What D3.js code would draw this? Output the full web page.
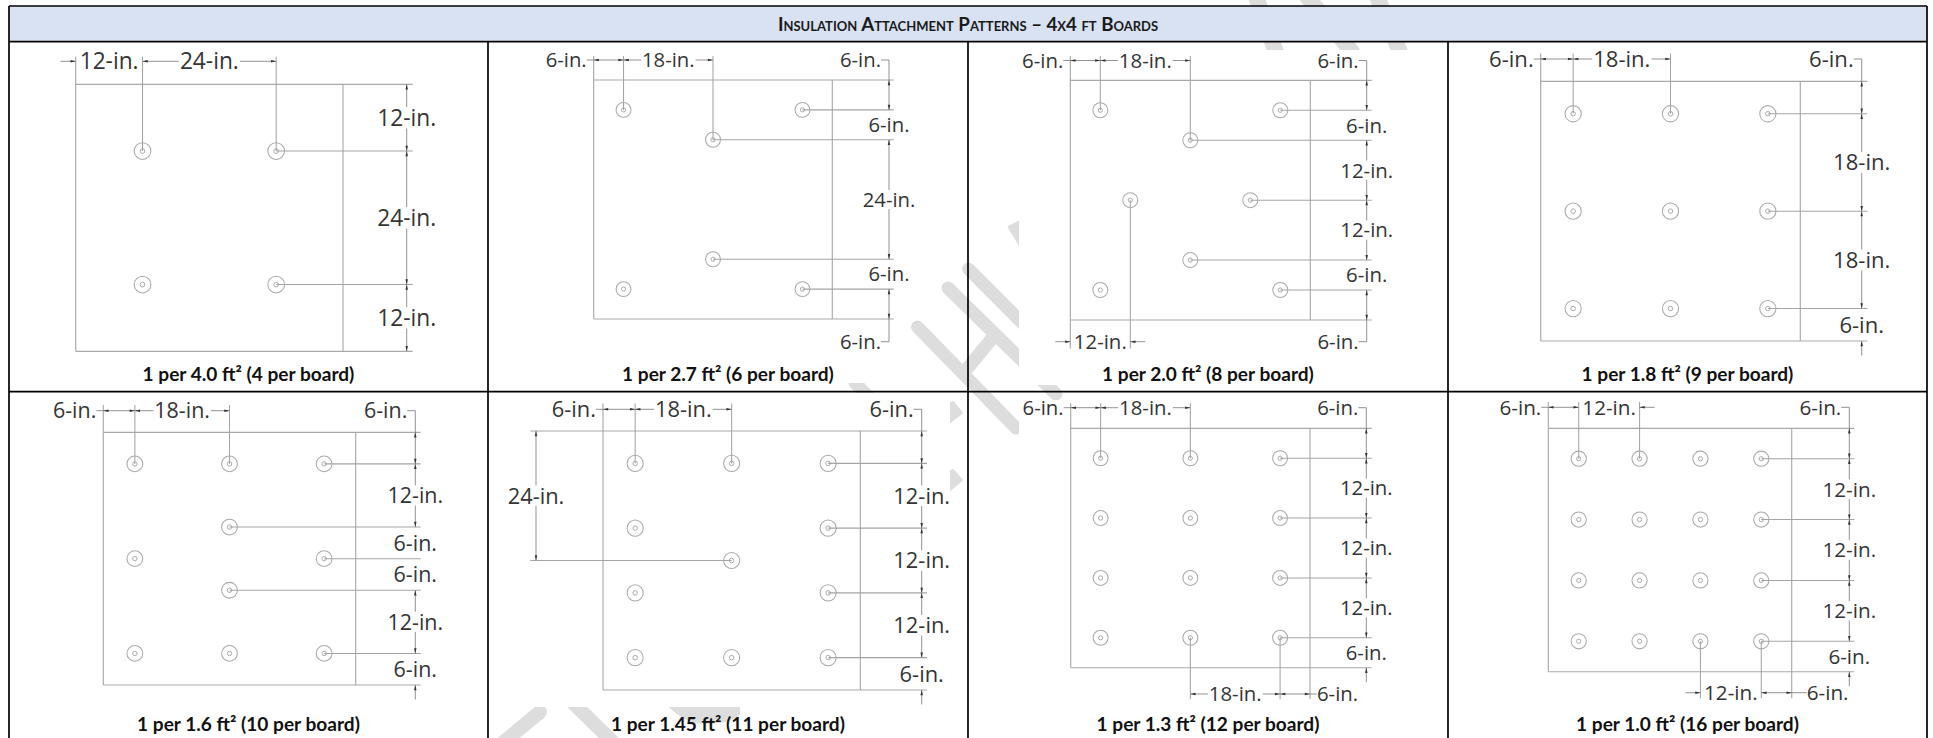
<!DOCTYPE html>
<html><head><meta charset="utf-8">
<script src="https://cdn.jsdelivr.net/npm/d3@7"></script>
<style>
html,body{margin:0;padding:0;background:#fff;overflow:hidden}
svg{display:block}
.wm{stroke:#dddddd;fill:none;stroke-linecap:round}
.wmf{fill:#dddddd;stroke:#dddddd;stroke-linejoin:round;stroke-width:2}
.board{stroke:#a9a9a9;stroke-width:1.15;fill:none}
.ext{stroke:#a4a4a4;stroke-width:1.05;fill:none}
.dimline{stroke:#8c8c8c;stroke-width:.95;fill:none}
.arrow{fill:#333;stroke:none}
.ring{fill:none;stroke:#aaa;stroke-width:1.05}
.ringIn{fill:none;stroke:#a2a2a2;stroke-width:.9}
.lbl{font-family:"Open Sans",sans-serif;fill:#353535}
.cap{font-family:Lato,sans-serif;font-weight:700;fill:#111;text-anchor:middle}
.ttl{font-family:Lato,sans-serif;font-weight:700;fill:#1a1a1a;text-anchor:middle;font-variant:small-caps}
</style></head><body>
<script>
// ---------- content ----------
const chartTitle = "Insulation Attachment Patterns – 4x4 ft Boards";
const boardInches = 48;
const ratios = ["4.0","2.7","2.0","1.8","1.6","1.45","1.3","1.0"];
const perBoard = [4,6,8,9,10,11,12,16];

// fastener positions, inches from the board's top-left corner
const fasteners1 = [[12,12],[36,12],[12,36],[36,36]];
const fasteners2 = [[6,6],[42,6],[24,12],[24,36],[6,42],[42,42]];
const fasteners3 = [[6,6],[42,6],[24,12],[12,24],[36,24],[24,36],[6,42],[42,42]];
const fasteners4 = [[6,6],[24,6],[42,6],[6,24],[24,24],[42,24],[6,42],[24,42],[42,42]];
const fasteners5 = [[6,6],[24,6],[42,6],[24,18],[6,24],[42,24],[24,30],[6,42],[24,42],[42,42]];
const fasteners6 = [[6,6],[24,6],[42,6],[6,18],[42,18],[24,24],[6,30],[42,30],[6,42],[24,42],[42,42]];
const fasteners7 = [[6,6],[24,6],[42,6],[6,18],[24,18],[42,18],[6,30],[24,30],[42,30],[6,42],[24,42],[42,42]];
const fasteners8 = [[6,6],[18,6],[30,6],[42,6],[6,18],[18,18],[30,18],[42,18],[6,30],[18,30],[30,30],[42,30],[6,42],[18,42],[30,42],[42,42]];

// dimension chains: [from, to, label, how the label sits]
const top1 = [[0,12,"12-in.","textTailS"],[12,36,"24-in.","dim"]];
const top2 = [[0,6,"6-in.","leadS"],[6,24,"18-in.","dim"]];
const top8 = [[0,6,"6-in.","leadS"],[6,18,"12-in.","textTailE"]];
const right1 = [[0,12,"12-in.","dim"],[12,36,"24-in.","dim"],[36,48,"12-in.","dim"]];
const right2 = [[0,6,"6-in.","leadS"],[6,12,"6-in.","text"],[12,36,"24-in.","dim"],[36,42,"6-in.","text"],[42,48,"6-in.","leadE"]];
const right3 = [[0,6,"6-in.","leadS"],[6,12,"6-in.","text"],[12,24,"12-in.","dim"],[24,36,"12-in.","dim"],[36,42,"6-in.","text"],[42,48,"6-in.","leadE"]];
const right4 = [[0,6,"6-in.","leadS"],[6,24,"18-in.","dim"],[24,42,"18-in.","dim"],[42,48,"6-in.","textTailE"]];
const right5 = [[0,6,"6-in.","leadS"],[6,18,"12-in.","dim"],[18,24,"6-in.","text"],[24,30,"6-in.","text"],[30,42,"12-in.","dim"],[42,48,"6-in.","textTailE"]];
const right6 = [[0,6,"6-in.","leadS"],[6,18,"12-in.","dim"],[18,30,"12-in.","dim"],[30,42,"12-in.","dim"],[42,48,"6-in.","textTailE"]];
const bottom3 = [[0,12,"12-in.","textTailBoth"]];
const bottom7 = [[24,42,"18-in.","dim"],[42,48,"6-in.","leadE"]];
const bottom8 = [[30,42,"12-in.","textTailS"],[42,48,"6-in.","leadE"]];
const left6 = [[0,24,"24-in.","dim"]];

const fastenerSets = [fasteners1,fasteners2,fasteners3,fasteners4,fasteners5,fasteners6,fasteners7,fasteners8];
const topChains = [top1,top2,top2,top2,top2,top2,top2,top8];
const rightChains = [right1,right2,right3,right4,right5,right6,right6,right6];
const bottomChains = [null,null,bottom3,null,null,null,bottom7,bottom8];
const leftChains = [null,null,null,null,null,left6,null,null];

// ---------- page layout (pixels) ----------
const W = 1933, H = 738;
const colX = [9,488,968,1448,1927];
const rowY = [6,41.7,391.7,H+6];
const captionBase = [381,731];
const panels = [
 {left:75.7,right:343,top:84.3,bottom:351.3,dimR:406.7,extR:412.7,dimT:61.3,extT:56.7},
 {left:593.7,right:832.3,top:80,bottom:319,dimR:889,extR:893.7,dimT:60,extT:56,dimB:341.7},
 {left:1070.3,right:1310.3,top:80.3,bottom:320,dimR:1366.7,extR:1371.7,dimT:60.5,extT:56,dimB:341.7,extB:348.5,leadB:7},
 {left:1540.7,right:1800.3,top:81.3,bottom:341,dimR:1861.7,extR:1867.3,dimT:59,extT:53.5},
 {left:103.3,right:355.7,top:432.3,bottom:685,dimR:415.3,extR:420.7,dimT:410.7,extT:405},
 {left:603,right:860.3,top:431,bottom:690,dimR:921.7,extR:927,dimT:409.3,extT:403.5,dimL:536,extL:530.3},
 {left:1070.7,right:1310,top:428.3,bottom:667.7,dimR:1366.3,extR:1371.7,dimT:407.7,extT:403.3,dimB:694,extB:699.3,leadB:7},
 {left:1548.3,right:1791.7,top:428.3,bottom:671.7,dimR:1849.3,extR:1854.3,dimT:407.3,extT:402,dimB:692.7,extB:698.3,leadB:15}
];

const svg = d3.select("body").append("svg").attr("width",W).attr("height",H).attr("viewBox",[0,0,W,H]);
svg.append("rect").attr("width",W).attr("height",H).attr("fill","#fff");

// ---------- faint background watermark ----------
const wm = svg.append("g");
const bands = [
 [917.5,327,1016,428,13],[948,288,1056,394,13],[968.5,269,1040,341,13],[966,370,994,336,13],
 [855,383,890,418,13],[1255,-6,1276,52,16],[1305,-6,1352,52,16],[1376,-6,1400,52,16],
 [500,745,540,712,14],[570,700,616,745,14]
];
wm.selectAll("line").data(bands).join("line").attr("class","wm")
  .attr("x1",d=>d[0]).attr("y1",d=>d[1]).attr("x2",d=>d[2]).attr("y2",d=>d[3]).attr("stroke-width",d=>d[4]);
const blobs = ["M1008.6,227L1020,221L1020,246Z","M949,423L962,413L953,402L949,404Z","M949,491L962,480L953,470L949,472Z",
 "M669,706C680,716 690,723 705,723C720,723 732,720 739,714L739,706Z"];
wm.selectAll("path").data(blobs).join("path").attr("class","wmf").attr("d",d=>d);
// the drawings are opaque pictures sitting over the watermark
const sheets = [[545,50,362,333],[1019,50,400,335],[536,393,414,314],[1019,400,400,320]];
svg.append("g").selectAll("rect").data(sheets).join("rect").attr("fill","#fff")
  .attr("x",d=>d[0]).attr("y",d=>d[1]).attr("width",d=>d[2]).attr("height",d=>d[3]);

// ---------- table ----------
svg.append("rect").attr("x",colX[0]).attr("y",rowY[0]).attr("width",colX[4]-colX[0]).attr("height",rowY[1]-rowY[0]).attr("fill","#D9E2F3");
const grid = svg.append("g").attr("stroke","#000").attr("stroke-width",1.7);
grid.selectAll(".h").data([rowY[0],rowY[1],rowY[2]]).join("line").attr("x1",colX[0]).attr("x2",colX[4]).attr("y1",d=>d).attr("y2",d=>d);
grid.selectAll(".v").data(colX).join("line").attr("y1",(d,i)=>(i===0||i===4)?rowY[0]:rowY[1]).attr("y2",H+6).attr("x1",d=>d).attr("x2",d=>d);
svg.append("text").attr("class","ttl").attr("x",(colX[0]+colX[4])/2).attr("y",31).attr("font-size",18.7).text(chartTitle);

// ---------- panels ----------
const seg = (g,x1,y1,x2,y2,c) => g.append("line").attr("class",c).attr("x1",x1).attr("y1",y1).attr("x2",x2).attr("y2",y2);

panels.forEach((p,i) => {
  const g = svg.append("g");
  const pts = fastenerSets[i];
  const x = d3.scaleLinear().domain([0,boardInches]).range([p.left,p.right]);
  const y = d3.scaleLinear().domain([0,boardInches]).range([p.top,p.bottom]);
  const k = (p.right-p.left)/boardInches;
  const fs = k*4.08;

  const label = (tx,ty,text,anchor) => g.append("text").attr("class","lbl").attr("font-size",fs)
      .attr("x",tx).attr("y",ty+fs*0.36).attr("text-anchor",anchor||"middle").text(text);

  function chain(spec, scale, fixed, horizontal) {
    const line = (s,e) => horizontal ? seg(g,s,fixed,e,fixed,"dimline") : seg(g,fixed,s,fixed,e,"dimline");
    const arrow = (tip,dir) => {
      const len=5.2, hw=1.25;
      const d = horizontal ? `M${tip},${fixed}L${tip-dir*len},${fixed-hw}L${tip-dir*len},${fixed+hw}Z`
                           : `M${fixed},${tip}L${fixed-hw},${tip-dir*len}L${fixed+hw},${tip-dir*len}Z`;
      g.append("path").attr("class","arrow").attr("d",d);
    };
    const mid = (a,b) => horizontal ? [(a+b)/2,fixed] : [fixed,(a+b)/2];
    spec.forEach(([from,to,text,kind]) => {
      const a=scale(from), b=scale(to);
      if (kind==="dim") {
        const [mx,my]=mid(a,b); const t=label(mx,my,text);
        const gap = horizontal ? t.node().getComputedTextLength()/2+1 : fs*0.47;
        const m=(a+b)/2; line(a,m-gap); line(m+gap,b); arrow(a,-1); arrow(b,1);
      } else if (kind==="text") {
        const [mx,my]=mid(a,b); label(mx,my,text);
      } else if (kind.startsWith("textTail")) {
        const [mx,my]=mid(a,b); label(mx,my,text);
        const tail=horizontal?15:14.5;
        if (kind==="textTailS"||kind==="textTailBoth"){ line(a-tail,a); arrow(a,1); }
        if (kind==="textTailE"||kind==="textTailBoth"){ line(b,b+tail); arrow(b,-1); }
      } else if (kind==="leadS") {
        if (horizontal){ const e=a-7; line(e,b); arrow(a,-1); arrow(b,1); label(e,fixed,text,"end"); }
        else { line(p.dimT,b); seg(g,fixed-8,p.dimT,fixed,p.dimT,"dimline"); arrow(a,-1); arrow(b,1); label(fixed-8,p.dimT,text,"end"); }
      } else if (kind==="leadE") {
        if (horizontal){ const e=b+(p.leadB||7); line(a,e); arrow(a,-1); arrow(b,1); label(e,fixed,text,"start"); }
        else { line(a,p.dimB); seg(g,fixed-8,p.dimB,fixed,p.dimB,"dimline"); arrow(a,-1); arrow(b,1); label(fixed-8,p.dimB,text,"end"); }
      }
    });
  }

  // board outline, extended to the dimension chains
  const lineL = p.extL!==undefined ? p.extL : x(0);
  seg(g,lineL,y(0),p.extR,y(0),"board");
  seg(g,x(0),y(boardInches),p.extR,y(boardInches),"board");
  const bottomStops = (bottomChains[i]||[]).flatMap(s=>[s[0],s[1]]);
  seg(g,x(0),p.extT,x(0),bottomStops.includes(0)?p.extB:y(boardInches),"board");
  seg(g,x(boardInches),y(0),x(boardInches),bottomStops.includes(boardInches)?p.extB:y(boardInches),"board");

  // extension lines from fasteners to chains
  const stopsOf = c => Array.from(new Set(c.flatMap(s=>[s[0],s[1]]))).filter(v=>v>0&&v<boardInches);
  stopsOf(topChains[i]).forEach(s => {
    const f = pts.filter(q=>q[0]===s); seg(g,x(s),p.extT,x(s),y(d3.min(f,q=>q[1])),"ext");
  });
  stopsOf(rightChains[i]).forEach(s => {
    const f = pts.filter(q=>q[1]===s); seg(g,x(d3.max(f,q=>q[0])),y(s),p.extR,y(s),"ext");
  });
  stopsOf(bottomChains[i]||[]).forEach(s => {
    const f = pts.filter(q=>q[0]===s); seg(g,x(s),y(d3.max(f,q=>q[1])),x(s),p.extB,"ext");
  });
  if (leftChains[i]) stopsOf(leftChains[i]).forEach(s => {
    const f = pts.filter(q=>q[1]===s); seg(g,p.extL,y(s),x(d3.min(f,q=>q[0])),y(s),"ext");
  });

  // fasteners
  g.selectAll(".o").data(pts).join("circle").attr("class","ring")
    .attr("cx",d=>x(d[0])).attr("cy",d=>y(d[1])).attr("r",1.5*k);
  g.selectAll(".n").data(pts).join("circle").attr("class","ringIn")
    .attr("cx",d=>x(d[0])).attr("cy",d=>y(d[1])).attr("r",0.42*k);

  // dimension chains
  chain(topChains[i],x,p.dimT,true);
  chain(rightChains[i],y,p.dimR,false);
  if (bottomChains[i]) chain(bottomChains[i],x,p.dimB,true);
  if (leftChains[i]) chain(leftChains[i],y,p.dimL,false);

  // caption
  const col=i%4, row=Math.floor(i/4);
  svg.append("text").attr("class","cap").attr("x",(colX[col]+colX[col+1])/2).attr("y",captionBase[row])
    .attr("font-size",19.1).text(`1 per ${ratios[i]} ft² (${perBoard[i]} per board)`);
});
</script>
</body></html>
